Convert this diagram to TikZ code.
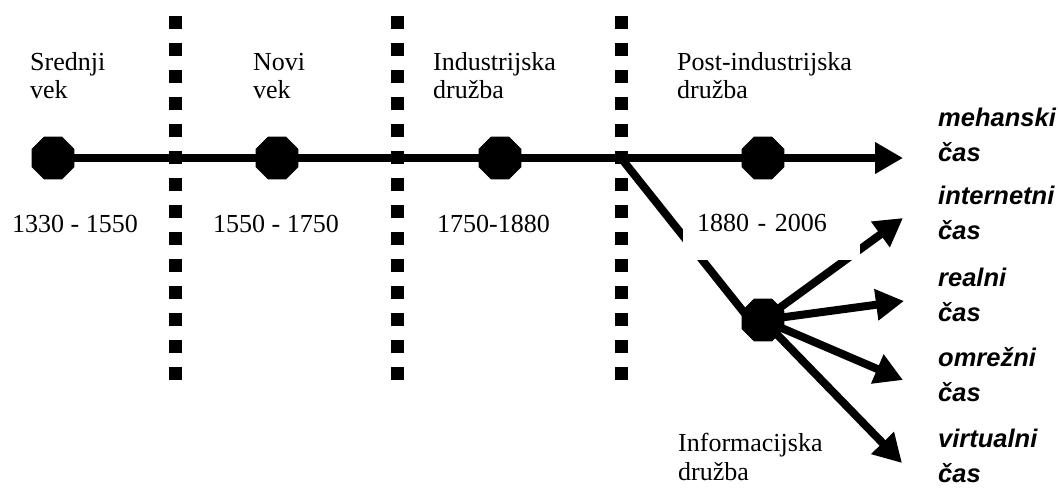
\documentclass[tikz,border=0pt]{standalone}
\usepackage{fontspec}
\setmainfont{Liberation Serif}
\newfontfamily\labfont{Liberation Sans}
\usetikzlibrary{arrows.meta,shapes.geometric}
\begin{document}
\begin{tikzpicture}[x=1pt,y=-1pt,
  oct/.style={regular polygon, regular polygon sides=8, fill=black, minimum size=46.5pt, inner sep=0pt},
  conn/.style={line width=8pt},
  arr/.style={conn, -{Triangle[length=28pt,width=30pt]}},
  era/.style={anchor=base west, inner sep=0pt, align=left, font=\fontsize{26}{28.5}\selectfont},
  tlab/.style={anchor=base west, inner sep=0pt, align=left, font=\labfont\bfseries\itshape\fontsize{25.5}{35}\selectfont},
  sepline/.style={line width=13pt, dash pattern=on 13pt off 14pt}
]
\useasboundingbox (0,0) rectangle (1058,488);
% separators
\coordinate (s1t) at (175,16); \coordinate (s1b) at (175,380);
\coordinate (s2t) at (397,16); \coordinate (s2b) at (397,380);
\coordinate (s3t) at (621,16); \coordinate (s3b) at (621,380);
\draw[sepline] (s1t) -- (s1b);
\draw[sepline] (s2t) -- (s2b);
\draw[sepline] (s3t) -- (s3b);
% octagon positions
\coordinate (p1) at (53,158);
\coordinate (p2) at (277,158);
\coordinate (p3) at (500,158);
\coordinate (p4) at (763,158);
\coordinate (p5) at (763,320);
\coordinate (j) at (621,158);
\coordinate (tm) at (903,158);
\coordinate (ti) at (903,218);
\coordinate (tr) at (904,301);
\coordinate (to) at (903,380);
\coordinate (tv) at (902,463);
% connectors
\draw[arr] (p1) -- (tm);
\draw[conn] (j) -- ([xshift=-13pt]p5);
\draw[arr] (p5) -- (ti);
\draw[arr] (p5) -- (tr);
\draw[arr] (p5) -- (to);
\draw[arr] (p5) -- (tv);
% period label with white backing
\node[fill=white, inner sep=0pt, minimum width=177pt, minimum height=75pt, text width=177pt, align=left,
      font=\fontsize{26}{28.5}\selectfont] (y4) at (771.5,222.5) {\hspace*{14pt}1880 - 2006};
% octagons
\node[oct] (o1) at (p1) {};
\node[oct] (o2) at (p2) {};
\node[oct] (o3) at (p3) {};
\node[oct] (o4) at (p4) {};
\node[oct] (o5) at (p5) {};
% era labels (anchor = baseline of last line)
\node[era] (e1) at (30,98.5) {Srednji\\vek};
\node[era] (e2) at (253,98.5) {Novi\\vek};
\node[era] (e3) at (433,98.5) {Industrijska\\družba};
\node[era] (e4) at (677,98.5) {Post-industrijska\\družba};
\node[era] (e5) at (678,480) {Informacijska\\družba};
% year labels
\node[era] (y1) at (12,232) {1330 - 1550};
\node[era] (y2) at (213,232) {1550 - 1750};
\node[era] (y3) at (437,232) {1750-1880};
% time labels
\node[tlab] (lm) at (938,161) {mehanski\\čas};
\node[tlab] (li) at (938,239) {internetni\\čas};
\node[tlab] (lr) at (938,321) {realni\\čas};
\node[tlab] (lo) at (938,401) {omrežni\\čas};
\node[tlab] (lv) at (938,482) {virtualni\\čas};
\end{tikzpicture}
\end{document}
